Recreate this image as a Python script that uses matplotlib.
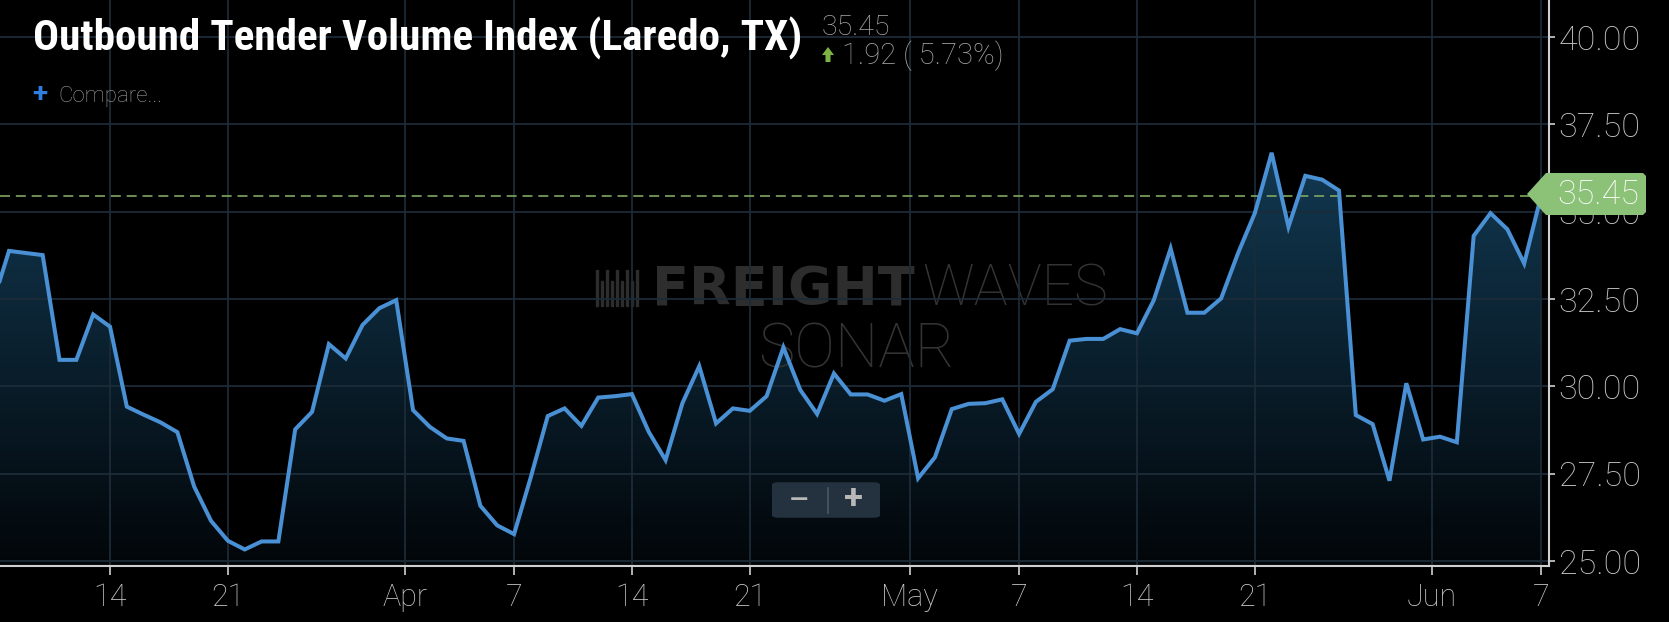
import matplotlib
matplotlib.use('Agg')
import matplotlib.pyplot as plt
import matplotlib.dates as mdates
import matplotlib.patches as mpatches
from matplotlib import font_manager
from matplotlib.lines import Line2D
import numpy as np
import pandas as pd

W, H = 1669, 622

# ---------------- data ----------------
start_date = '2019-03-07'
values = [
    32.33, 33.88, 33.82, 33.76, 30.76, 30.76, 32.06, 31.71, 29.42, 29.19,   # Mar 7-16
    28.97, 28.69, 27.13, 26.15, 25.58, 25.33, 25.56, 25.56, 28.77, 29.27,   # Mar 17-26
    31.21, 30.80, 31.76, 32.24, 32.47,                                      # Mar 27-31
    29.32, 28.84, 28.51, 28.44, 26.58, 26.02, 25.77, 27.41, 29.15, 29.37,   # Apr 1-10
    28.87, 29.68, 29.72, 29.78, 28.70, 27.89, 29.52, 30.58, 28.94, 29.37,   # Apr 11-20
    29.30, 29.72, 31.12, 29.90, 29.21, 30.37, 29.77, 29.77, 29.59, 29.78,   # Apr 21-30
    27.37, 27.97, 29.35, 29.50, 29.52, 29.63, 28.64, 29.56, 29.92, 31.31,   # May 1-10
    31.36, 31.36, 31.64, 31.52, 32.47, 33.95, 32.11, 32.11, 32.52, 33.81,   # May 11-20
    34.96, 36.69, 34.57, 36.03, 35.92, 35.61, 29.18, 28.92, 27.30, 30.09,   # May 21-30
    28.48,                                                                  # May 31
    28.56, 28.40, 34.31, 34.96, 34.50, 33.52, 35.45,                        # Jun 1-7
]
dates = pd.date_range(start_date, periods=len(values), freq='D')

title = "Outbound Tender Volume Index (Laredo, TX)"
last_value_text = "35.45"
change_text = "1.92 ( 5.73%)"
last_value = 35.45

y_ticks = [25.0, 27.5, 30.0, 32.5, 35.0, 37.5, 40.0]
y_tick_labels = ['25.00', '27.50', '30.00', '32.50', '35.00', '37.50', '40.00']
x_tick_dates = ['2019-03-14', '2019-03-21', '2019-04-01', '2019-04-07', '2019-04-14',
                '2019-04-21', '2019-05-01', '2019-05-07', '2019-05-14', '2019-05-21',
                '2019-06-01', '2019-06-07']
x_tick_labels = ['14', '21', 'Apr', '7', '14', '21', 'May', '7', '14', '21', 'Jun', '7']

# ---------------- style ----------------
plt.rcParams['font.family'] = ['Roboto', 'DejaVu Sans']
LINE = '#4a90d4'
GRID = '#1c2b38'
AXIS = '#d0d0d0'
TICKTXT = '#c8c8c8'


def fx(x):
    return x / W


def fy(y):
    return 1 - y / H


def have_font(name):
    try:
        font_manager.findfont(font_manager.FontProperties(family=name),
                              fallback_to_default=False)
        return True
    except Exception:
        return False


title_family = 'Roboto'
for cand in ['Roboto Condensed', 'Liberation Sans Narrow', 'Arial Narrow']:
    if have_font(cand):
        title_family = cand
        break

fig = plt.figure(figsize=(W / 100, H / 100), dpi=100, facecolor='black')
ax = fig.add_axes([0, (H - 566) / H, 1549 / W, 566 / H])
ax.set_facecolor('black')

xn = mdates.date2num(dates)
x_left = xn[1] - 0.535
x_right = xn[-1] + 0.475
y_lo, y_hi = 24.857, 41.065

# gradient fill under the line
fill = ax.fill_between(xn, values, y_lo, color='none', lw=0)
top_c = np.array([18, 57, 82]) / 255
bot_c = np.array([2, 6, 9]) / 255
vmax = max(values)
n = 256
t = np.linspace(0, 1, n)[:, None]
grad = bot_c[None, :] * (1 - t) + top_c[None, :] * t
grad = np.repeat(grad[:, None, :], 2, axis=1)
im = ax.imshow(grad, extent=[x_left, x_right, y_lo, vmax], origin='lower',
               aspect='auto', zorder=1, interpolation='bilinear')
im.set_clip_path(fill.get_paths()[0], transform=ax.transData)

ax.plot(xn, values, color=LINE, lw=2.9, zorder=4, solid_joinstyle='miter',
        solid_capstyle='butt')
ax.axhline(last_value, color='#7fa860', lw=1.2, ls=(0, (6, 3.5)), zorder=3)

ax.set_xlim(x_left, x_right)
ax.set_ylim(y_lo, y_hi)

# ticks
tick_pos = []
for d, lab in zip(x_tick_dates, x_tick_labels):
    v = mdates.date2num(pd.Timestamp(d))
    if not lab.isdigit():
        v -= 0.5
    tick_pos.append(v)
ax.set_xticks(tick_pos)
ax.set_xticklabels(x_tick_labels)
ax.set_yticks(y_ticks)
ax.set_yticklabels(y_tick_labels)
ax.yaxis.tick_right()

ax.tick_params(axis='x', length=6.5, width=1.2, color=AXIS, labelcolor=TICKTXT,
               labelsize=22, pad=6)
ax.tick_params(axis='y', length=4, width=1.2, color=AXIS, labelcolor=TICKTXT,
               labelsize=24.5, pad=3)
for lab in ax.get_xticklabels() + ax.get_yticklabels():
    lab.set_fontweight('light')

ax.grid(True, color=GRID, lw=1.3)
ax.set_axisbelow(False)
for g in ax.get_xgridlines() + ax.get_ygridlines():
    g.set_zorder(2)

for s in ['top', 'left']:
    ax.spines[s].set_visible(False)
for s in ['bottom', 'right']:
    ax.spines[s].set_color(AXIS)
    ax.spines[s].set_linewidth(1.5)
    ax.spines[s].set_zorder(5)

renderer = fig.canvas.get_renderer()

# ---------------- watermark (behind line) ----------------
WM = '#2d2d2d'
t_fr = ax.text(fx(600), fy(305), "FREIGHT", transform=fig.transFigure, color=WM,
               fontsize=39, fontweight='heavy', family=['DejaVu Sans'], ha='left',
               va='baseline', zorder=2.5)
t_wv = ax.text(fx(600), fy(305), "WAVES", transform=fig.transFigure, color='#333333',
               fontsize=41, fontweight='ultralight', family=['Roboto', 'DejaVu Sans'],
               ha='left', va='baseline', zorder=2.5)
w_fr = t_fr.get_window_extent(renderer).width
w_wv = t_wv.get_window_extent(renderer).width
icon_w = 42
gap1, gap2 = 14, 8
total = icon_w + gap1 + w_fr + gap2 + w_wv
x0 = 852 - total / 2
for i in range(9):
    bx = x0 + i * 5
    top = 270 if i % 2 == 0 else 281
    ax.add_artist(mpatches.Rectangle((fx(bx), fy(306)), 2.4 / W, (306 - top) / H,
                                     transform=fig.transFigure, color=WM, zorder=2.5,
                                     clip_on=False))
t_fr.set_x(fx(x0 + icon_w + gap1))
t_wv.set_x(fx(x0 + icon_w + gap1 + w_fr + gap2))
ax.text(fx(856), fy(367), "SONAR", transform=fig.transFigure, color='#333333',
        fontsize=44, fontweight='ultralight', family=['Roboto', 'DejaVu Sans'],
        ha='center', va='baseline', zorder=2.5)

# ---------------- header texts ----------------
t_title = fig.text(fx(33), fy(51), title, color='white', fontsize=29.5, fontweight='bold',
                   family=[title_family, 'DejaVu Sans'], ha='left', va='baseline')
tw = t_title.get_window_extent(renderer).width
t_title.set_fontsize(29.5 * 770.0 / tw)

fig.text(fx(822), fy(35), last_value_text, color='#a8a8a8', fontsize=20.5,
         fontweight='light', ha='left', va='baseline')
arrow = mpatches.Polygon([(fx(822), fy(55)), (fx(828), fy(47)), (fx(834), fy(55)),
                          (fx(830.5), fy(55)), (fx(830.5), fy(62)), (fx(825.5), fy(62)),
                          (fx(825.5), fy(55))], closed=True, transform=fig.transFigure,
                         facecolor='#7cb342', edgecolor='none')
fig.add_artist(arrow)
fig.text(fx(842), fy(64), change_text, color='#a8a8a8', fontsize=21,
         fontweight='light', ha='left', va='baseline')
fig.text(fx(40), fy(95), "+", color='#2f7fe0', fontsize=20, fontweight='bold',
         ha='center', va='center')
fig.text(fx(58), fy(102), "Compare...", color='#9a9a9a', fontsize=16,
         fontweight='light', ha='left', va='baseline')

# ---------------- last value label ----------------
lbl = mpatches.Polygon([(fx(1527), fy(194)), (fx(1546), fy(173)), (fx(1643), fy(173)),
                        (fx(1646), fy(176)), (fx(1646), fy(212)), (fx(1643), fy(215)),
                        (fx(1546), fy(215))], closed=True, transform=fig.transFigure,
                       facecolor='#8cc178', edgecolor='none', zorder=6)
fig.add_artist(lbl)
fig.text(fx(1598), fy(195), last_value_text, color='white', fontsize=24.5,
         fontweight='light', ha='center', va='center', zorder=7)

# ---------------- zoom buttons ----------------
btn = mpatches.FancyBboxPatch((fx(774), fy(517)), (880 - 774 - 2) / W, (517 - 483) / H,
                              boxstyle=mpatches.BoxStyle('Round', pad=0.0012, rounding_size=0.004),
                              transform=fig.transFigure, facecolor='#24313e',
                              edgecolor='none', zorder=6)
fig.add_artist(btn)
fig.add_artist(Line2D([fx(828), fx(828)], [fy(488), fy(513)], transform=fig.transFigure,
                      color='#4a5764', lw=1.2, zorder=7))
fig.text(fx(799), fy(500), "\u2014", color='#b8b8b8', fontsize=17, fontweight='bold',
         ha='center', va='center', zorder=7)
fig.text(fx(853), fy(500), "+", color='#b8b8b8', fontsize=25, fontweight='bold',
         ha='center', va='center', zorder=7)

fig.savefig('out.png', dpi=100, facecolor='black')
